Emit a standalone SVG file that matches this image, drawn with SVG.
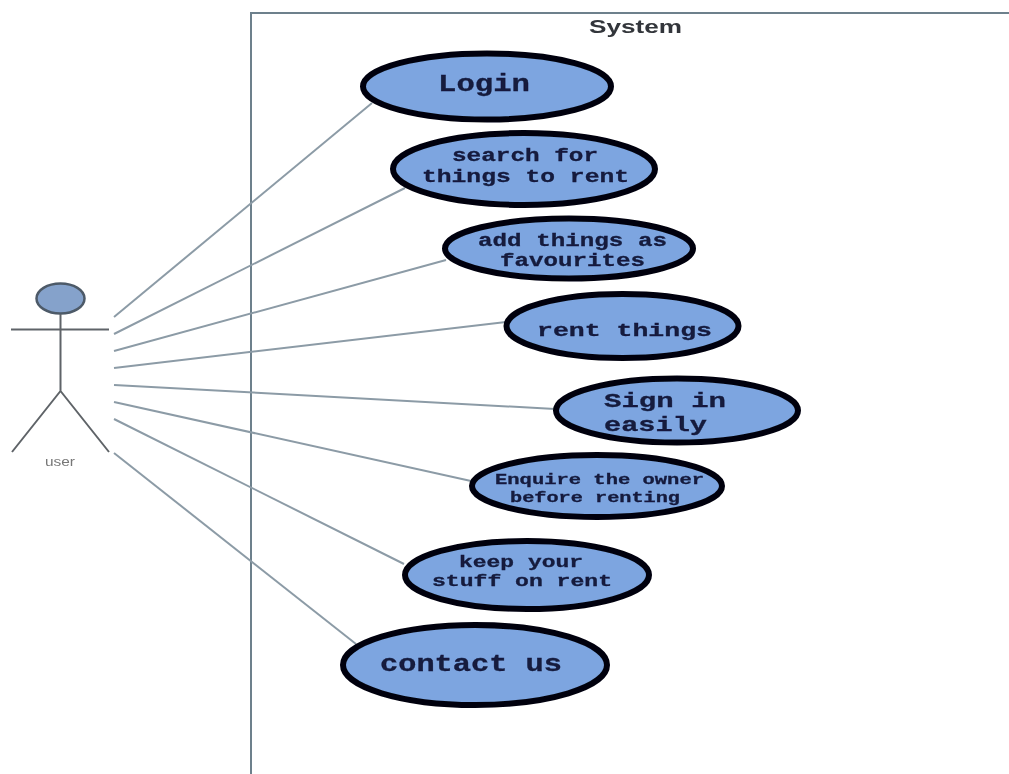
<svg xmlns="http://www.w3.org/2000/svg" width="1009" height="774" viewBox="0 0 1009 774">
<style>
.uc{fill:#7da5e0;stroke:#04060f;stroke-width:6}
.t{font-family:"Liberation Mono",monospace;font-weight:700;fill:#131a3c;stroke:#131a3c;stroke-width:.3}
.c{fill:none;stroke:#8c9ba6;stroke-width:2}
.a{fill:none;stroke:#5f6468;stroke-width:2}
</style>
<defs><filter id="b" x="-5%" y="-5%" width="110%" height="110%"><feGaussianBlur stdDeviation="0.5"/></filter></defs>
<rect width="1009" height="774" fill="#fff"/>
<g filter="url(#b)">
<g id="frame">
<path d="M251 774V13H1009" fill="none" stroke="#6d808c" stroke-width="2"/>
<text x="589" y="33" textLength="93" lengthAdjust="spacingAndGlyphs" font-family="Liberation Sans,sans-serif" font-weight="700" font-size="19" fill="#33363a">System</text>
</g>
<g id="connectors">
<line class="c" x1="114" y1="317" x2="372" y2="103"/>
<line class="c" x1="114" y1="334" x2="405" y2="188"/>
<line class="c" x1="114" y1="351" x2="446" y2="260"/>
<line class="c" x1="114" y1="368" x2="506" y2="322"/>
<line class="c" x1="114" y1="385" x2="555" y2="409" stroke="#74899a"/>
<line class="c" x1="114" y1="402" x2="471" y2="481"/>
<line class="c" x1="114" y1="419" x2="404" y2="564"/>
<line class="c" x1="114" y1="453" x2="356" y2="644"/>
</g>
<g id="actor-user">
<ellipse cx="60.5" cy="298.5" rx="24" ry="15" fill="#85a2cb" stroke="#4d5a68" stroke-width="2.5"/>
<path class="a" d="M11 329.5H109M60.5 314V391M12 452L60.5 391L109 452"/>
<text x="45" y="466" textLength="30" lengthAdjust="spacingAndGlyphs" font-family="Liberation Sans,sans-serif" font-size="12" fill="#777">user</text>
</g>
<g id="login"><ellipse class="uc" cx="487" cy="86.5" rx="124" ry="33"/><text class="t" x="438" y="91" font-size="23" textLength="92" lengthAdjust="spacingAndGlyphs">Login</text></g>
<g id="search"><ellipse class="uc" cx="524" cy="169" rx="131" ry="36"/><text class="t" x="452" y="161" font-size="18" textLength="146" lengthAdjust="spacingAndGlyphs">search for</text><text class="t" x="422" y="182" font-size="18" textLength="207" lengthAdjust="spacingAndGlyphs">things to rent</text></g>
<g id="favourites"><ellipse class="uc" cx="569" cy="248.5" rx="124" ry="30"/><text class="t" x="478" y="246" font-size="18" textLength="189" lengthAdjust="spacingAndGlyphs">add things as</text><text class="t" x="500" y="266" font-size="18" textLength="145" lengthAdjust="spacingAndGlyphs">favourites</text></g>
<g id="rent"><ellipse class="uc" cx="622.5" cy="326" rx="116" ry="32"/><text class="t" x="537" y="336" font-size="19" textLength="175" lengthAdjust="spacingAndGlyphs">rent things</text></g>
<g id="signin"><ellipse class="uc" cx="677" cy="410.5" rx="121" ry="32"/><text class="t" x="604" y="407" font-size="21" textLength="122" lengthAdjust="spacingAndGlyphs">Sign in</text><text class="t" x="604" y="431" font-size="21" textLength="103" lengthAdjust="spacingAndGlyphs">easily</text></g>
<g id="enquire"><ellipse class="uc" cx="597" cy="486" rx="125" ry="31"/><text class="t" x="495" y="484" font-size="15" textLength="209" lengthAdjust="spacingAndGlyphs">Enquire the owner</text><text class="t" x="510" y="502" font-size="15" textLength="170" lengthAdjust="spacingAndGlyphs">before renting</text></g>
<g id="keep"><ellipse class="uc" cx="527" cy="575" rx="122" ry="34"/><text class="t" x="459" y="567" font-size="16" textLength="124" lengthAdjust="spacingAndGlyphs">keep your</text><text class="t" x="432" y="586" font-size="16" textLength="180" lengthAdjust="spacingAndGlyphs">stuff on rent</text></g>
<g id="contact"><ellipse class="uc" cx="475" cy="665" rx="132" ry="40"/><text class="t" x="380" y="671" font-size="23" textLength="182" lengthAdjust="spacingAndGlyphs">contact us</text></g>
</g>
</svg>
